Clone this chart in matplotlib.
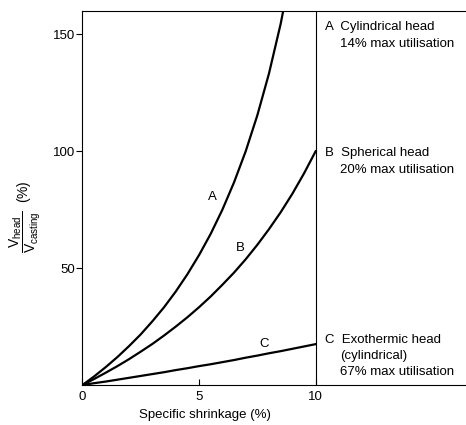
import matplotlib.pyplot as plt

plt.rcParams['font.family'] = ['Liberation Sans', 'DejaVu Sans']
plt.rcParams['mathtext.fontset'] = 'custom'
plt.rcParams['mathtext.rm'] = 'Liberation Sans'
plt.rcParams['mathtext.it'] = 'Liberation Sans:italic'

# shrinkage (%) and head/casting volume ratio (%)
shrinkage = [0, 0.5, 1, 1.5, 2, 2.5, 3, 3.5, 4, 4.5, 5, 5.5, 6, 6.5, 7, 7.5, 8, 8.5, 9, 9.5, 10]
curve_a = [0, 3.7, 7.7, 12.0, 16.7, 21.7, 27.3, 33.3, 40.0, 47.4, 55.6, 64.7, 75.0, 86.7,
           100.0, 115.4, 133.3, 154.5, 180.0]
curve_b = [0, 2.6, 5.3, 8.1, 11.1, 14.3, 17.6, 21.2, 25.0, 29.0, 33.3, 37.9, 42.9, 48.1,
           53.8, 60.0, 66.7, 73.9, 81.8, 90.5, 100.0]
curve_c = [0, 0.8, 1.5, 2.3, 3.1, 3.9, 4.7, 5.5, 6.4, 7.2, 8.1, 8.9, 9.8, 10.7,
           11.7, 12.6, 13.6, 14.5, 15.5, 16.5, 17.5]

legend_lines = {
    'A': ['A  Cylindrical head', '14% max utilisation'],
    'B': ['B  Spherical head', '20% max utilisation'],
    'C': ['C  Exothermic head', '(cylindrical)', '67% max utilisation'],
}

fs = 9.5

fig = plt.figure(figsize=(4.66, 4.25), dpi=100)
ax = fig.add_axes([0.177, 0.094, 0.823, 0.88])

ax.plot(shrinkage[:len(curve_a)], curve_a, color='black', lw=1.6)
ax.plot(shrinkage, curve_b, color='black', lw=1.6)
ax.plot(shrinkage, curve_c, color='black', lw=1.6)
ax.axvline(10, color='black', lw=0.8)

ax.set_xlim(0, 16.45)
ax.set_ylim(0, 160)
ax.set_xticks([0, 5, 10])
ax.set_yticks([50, 100, 150])
ax.tick_params(axis='x', direction='in', length=4, labelsize=fs, width=0.8, pad=4)
ax.tick_params(axis='y', direction='out', length=4, labelsize=fs, width=0.8, pad=1.5)
ax.spines['right'].set_visible(False)
for s in ['left', 'top', 'bottom']:
    ax.spines[s].set_linewidth(0.8)

ax.set_xlabel('Specific shrinkage (%)', fontsize=fs)
ax.xaxis.set_label_coords(0.32, -0.065)
ax.set_ylabel(r'$\dfrac{\mathrm{V}_{\mathrm{head}}}{\mathrm{V}_{\mathrm{casting}}}$  (%)', fontsize=10)
ax.yaxis.set_label_coords(-0.103, 0.45)

# curve letters
ax.text(5.56, 80.6, 'A', fontsize=fs, ha='center', va='center')
ax.text(6.76, 58.7, 'B', fontsize=fs, ha='center', va='center')
ax.text(7.79, 17.6, 'C', fontsize=fs, ha='center', va='center')

# key on the right
ys = {'A': [153, 146], 'B': [99.4, 92.2], 'C': [19.3, 12.4, 5.6]}
for k, lines in legend_lines.items():
    for i, (t, y) in enumerate(zip(lines, ys[k])):
        ax.text(10.41 if i == 0 else 11.05, y, t, fontsize=fs, ha='left', va='center')

fig.savefig('out.png', dpi=100)
